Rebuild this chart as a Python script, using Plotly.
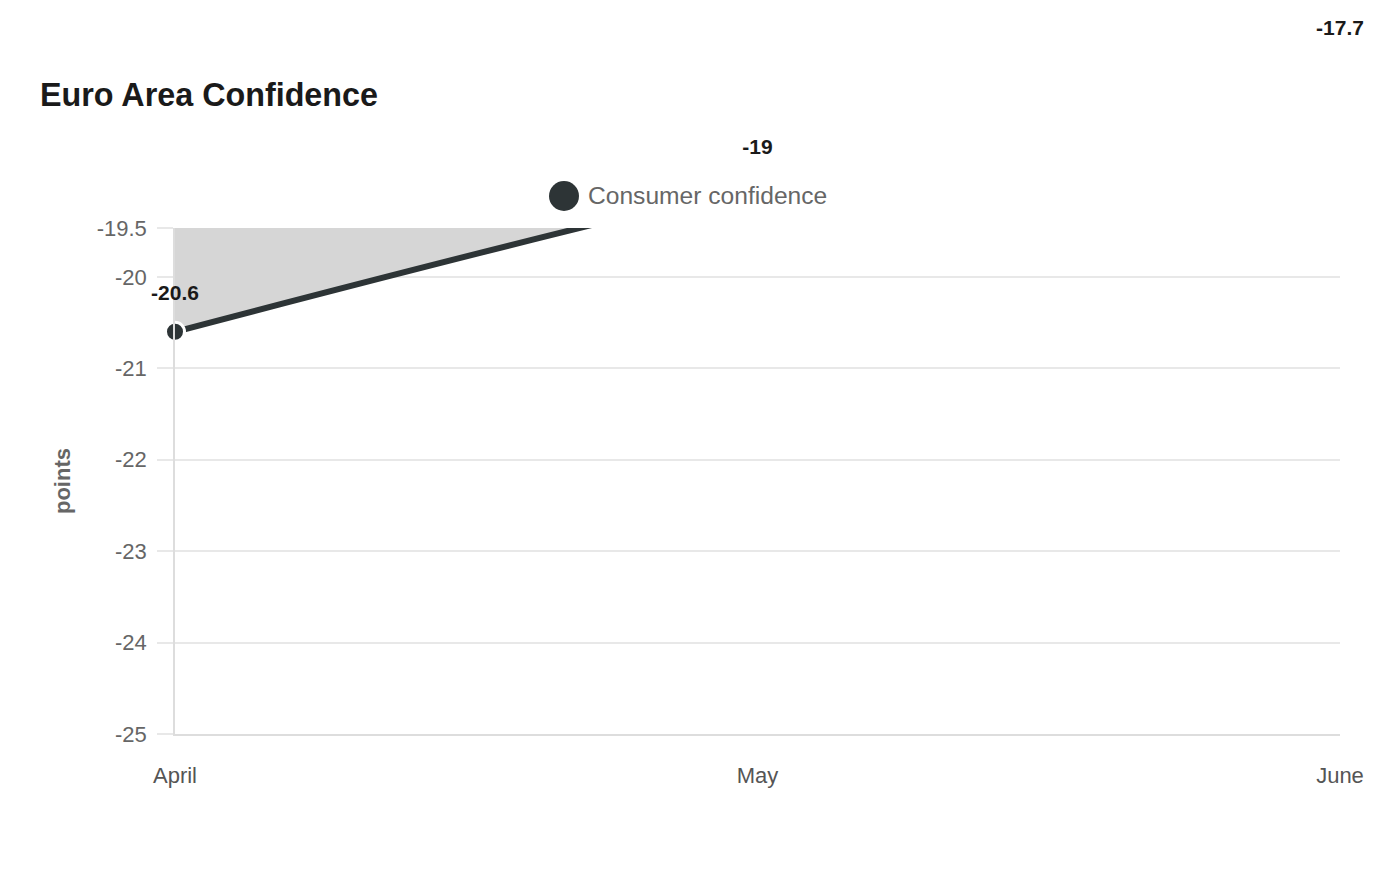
import plotly.graph_objects as go

# ---- data ----
months = ["April", "May", "June"]
consumer_confidence = [-20.6, -19.0, -17.7]
value_labels = ["-20.6", "-19", "-17.7"]
y_min, y_max = -25, -19.465
y_tickvals = [y_max, -20, -21, -22, -23, -24, -25]
y_ticktext = ["-19.5", "-20", "-21", "-22", "-23", "-24", "-25"]
series_name = "Consumer confidence"
chart_title = "Euro Area Confidence"
y_title = "points"

LINE_COLOR = "#2d3436"
FONT = "Liberation Sans, Arial, sans-serif"

# geometry (pixels)
M_TOP, M_BOT = 8, 146
AREA_H = 880 - M_TOP - M_BOT          # full plotting height (label layer)
PLOT_H = 506                          # visible chart height
px_per_unit = PLOT_H / (y_max - y_min)
label_range_top = y_min + AREA_H / px_per_unit

fig = go.Figure()
# line + area (clipped to the plot)
fig.add_trace(go.Scatter(
    x=months, y=consumer_confidence, mode="lines",
    name=series_name, showlegend=False, hoverinfo="skip",
    line=dict(color=LINE_COLOR, width=6, shape="spline", smoothing=1),
    fill="tozeroy", fillcolor="#d6d6d6",
    cliponaxis=True,
))
# point markers, only those inside the visible range are shown
marker_opacity = [1.0 if y_min <= v <= y_max else 0.0 for v in consumer_confidence]
fig.add_trace(go.Scatter(
    x=months, y=consumer_confidence, mode="markers",
    name=series_name, showlegend=False, cliponaxis=False,
    marker=dict(size=19, color=LINE_COLOR, opacity=marker_opacity,
                line=dict(color="white", width=3)),
))
# value labels on an invisible axis with the same scale, so they show above the plot
fig.add_trace(go.Scatter(
    x=months, y=consumer_confidence, mode="markers+text", yaxis="y2",
    text=[f"<b>{t}</b>" for t in value_labels], textposition="top center",
    textfont=dict(family=FONT, size=21, color="#1a1a1a"),
    marker=dict(size=41, color="rgba(0,0,0,0)"),
    showlegend=False, hoverinfo="skip", cliponaxis=False,
))

# legend-like item (large circle + label)
lx, ly = (564 - 175) / 1165, (734 - 196) / AREA_H
fig.add_shape(type="circle", xref="paper", yref="paper",
              xsizemode="pixel", ysizemode="pixel", xanchor=lx, yanchor=ly,
              x0=-15, x1=15, y0=-15, y1=15,
              fillcolor=LINE_COLOR, line=dict(width=0))
fig.add_annotation(xref="paper", yref="paper", x=(586 - 175) / 1165, y=ly,
                   xanchor="left", yanchor="middle", showarrow=False,
                   text=series_name, font=dict(family=FONT, size=24.6, color="#666666"))

fig.update_layout(
    width=1400, height=880,
    margin=dict(l=175, r=60, t=M_TOP, b=M_BOT, autoexpand=False),
    paper_bgcolor="white", plot_bgcolor="rgba(0,0,0,0)",
    font=dict(family=FONT, color="#666666"),
    title=dict(text=f"<b>{chart_title}</b>", x=40 / 1400, xanchor="left",
               xref="container", yref="container", y=1 - 95 / 880, yanchor="middle",
               font=dict(family=FONT, size=32.3, color="#1a1a1a")),
    showlegend=False,
    xaxis=dict(type="category", categoryorder="array", categoryarray=months,
               range=[0, 2], showgrid=False, zeroline=False,
               showline=True, linecolor="#dddddd", linewidth=1.5,
               ticks="", ticklabelstandoff=21, anchor="y",
               tickfont=dict(family=FONT, size=22, color="#555555"),
               automargin=False),
    yaxis=dict(domain=[0, PLOT_H / AREA_H],
               range=[y_min, y_max], tickmode="array", tickvals=y_tickvals, ticktext=y_ticktext,
               showgrid=True, gridcolor="#e8e8e8", gridwidth=1.5, zeroline=False,
               showline=True, linecolor="#dddddd", linewidth=1.5,
               ticks="outside", ticklen=16, tickcolor="#e8e8e8", tickwidth=1.5,
               ticklabelstandoff=6,
               tickfont=dict(family=FONT, size=22, color="#666666"),
               title=dict(text=f"<b>{y_title}</b>", standoff=20,
                          font=dict(family=FONT, size=22, color="#666666")),
               automargin=False),
    yaxis2=dict(domain=[0, 1], anchor="x", range=[y_min, label_range_top],
                visible=False, showgrid=False, zeroline=False, fixedrange=True),
)

fig.write_html("out.html")
